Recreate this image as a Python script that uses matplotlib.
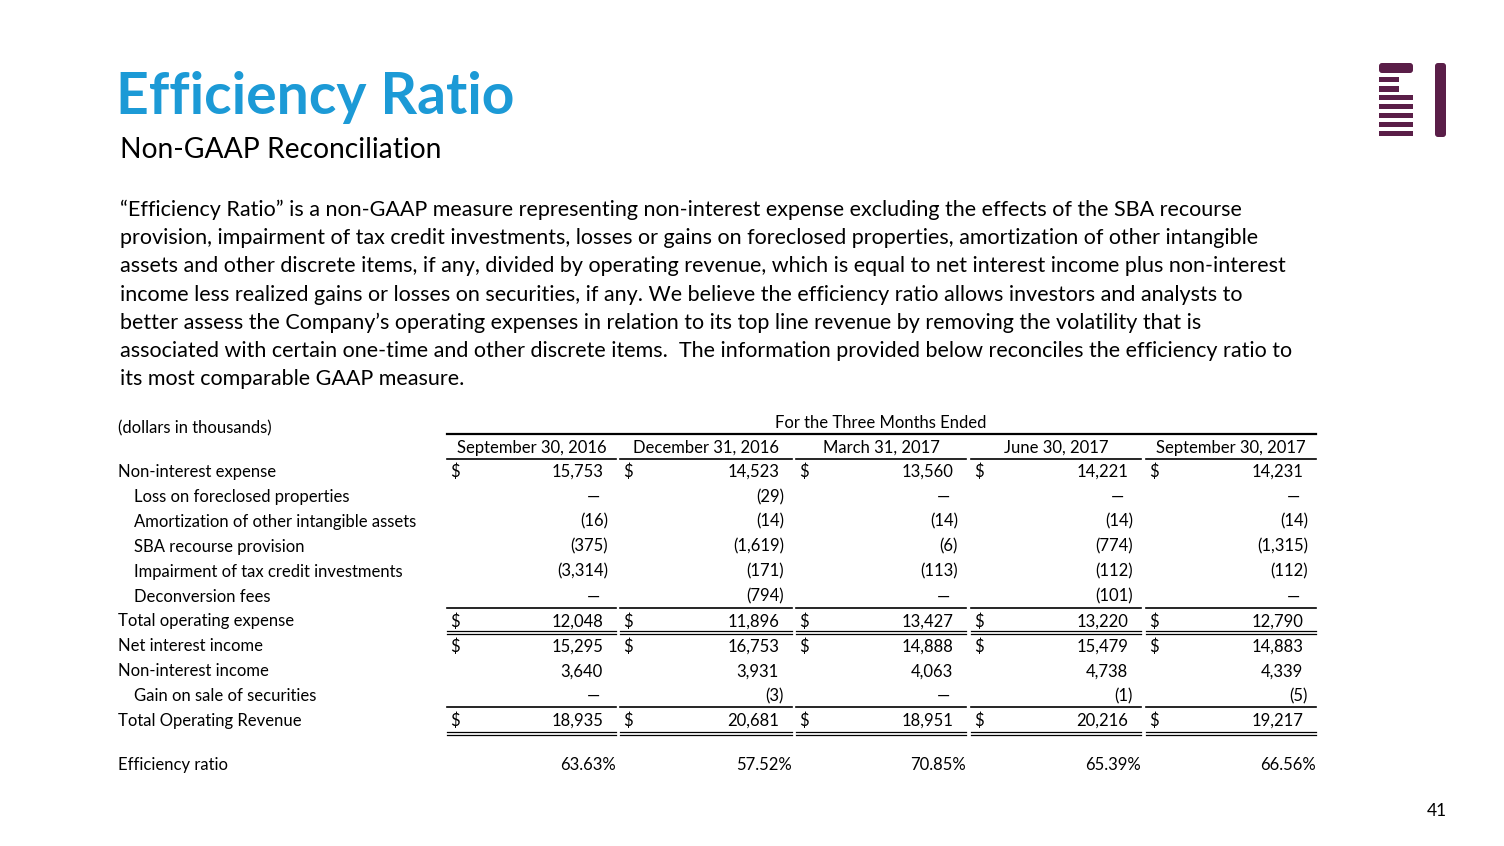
import matplotlib
matplotlib.use("Agg")
import matplotlib.pyplot as plt
from matplotlib.patches import Rectangle, FancyBboxPatch

plt.rcParams['font.family'] = ['Lato', 'DejaVu Sans']

title = "Efficiency Ratio"
subtitle = "Non-GAAP Reconciliation"
paragraph = [
    "\u201cEfficiency Ratio\u201d is a non-GAAP measure representing non-interest expense excluding the effects of the SBA recourse",
    "provision, impairment of tax credit investments, losses or gains on foreclosed properties, amortization of other intangible",
    "assets and other discrete items, if any, divided by operating revenue, which is equal to net interest income plus non-interest",
    "income less realized gains or losses on securities, if any. We believe the efficiency ratio allows investors and analysts to",
    "better assess the Company\u2019s operating expenses in relation to its top line revenue by removing the volatility that is",
    "associated with certain one-time and other discrete items.  The information provided below reconciles the efficiency ratio to",
    "its most comparable GAAP measure.",
]

periods = ["September 30, 2016", "December 31, 2016", "March 31, 2017",
           "June 30, 2017", "September 30, 2017"]

row_labels = ["Non-interest expense", "Loss on foreclosed properties",
              "Amortization of other intangible assets", "SBA recourse provision",
              "Impairment of tax credit investments", "Deconversion fees",
              "Total operating expense", "Net interest income", "Non-interest income",
              "Gain on sale of securities", "Total Operating Revenue"]
indented = [False, True, True, True, True, True, False, False, False, True, False]
dollar_rows = [True, False, False, False, False, False, True, True, False, False, True]

non_interest_expense = [15753, 14523, 13560, 14221, 14231]
loss_foreclosed = [None, -29, None, None, None]
amortization = [-16, -14, -14, -14, -14]
sba_recourse = [-375, -1619, -6, -774, -1315]
impairment = [-3314, -171, -113, -112, -112]
deconversion = [None, -794, None, -101, None]
total_operating_expense = [12048, 11896, 13427, 13220, 12790]
net_interest_income = [15295, 16753, 14888, 15479, 14883]
non_interest_income = [3640, 3931, 4063, 4738, 4339]
gain_on_securities = [None, -3, None, -1, -5]
total_operating_revenue = [18935, 20681, 18951, 20216, 19217]
efficiency_ratio = [63.63, 57.52, 70.85, 65.39, 66.56]

rows = [non_interest_expense, loss_foreclosed, amortization, sba_recourse, impairment,
        deconversion, total_operating_expense, net_interest_income, non_interest_income,
        gain_on_securities, total_operating_revenue]

BLUE = "#1C9AD6"
PURPLE = "#5A1E48"
TXT = "#000000"

fig = plt.figure(figsize=(15.04, 8.46), dpi=100)
ax = fig.add_axes([0, 0, 1, 1])
ax.set_xlim(0, 1504)
ax.set_ylim(846, 0)
ax.axis("off")

# header
ax.text(116, 98, title, fontsize=41, fontweight="bold", color=BLUE, va="center", ha="left")
ax.text(120, 150, subtitle, fontsize=20.3, color=TXT, va="center", ha="left")
for i, line in enumerate(paragraph):
    ax.text(120, 210 + i * 28.2, line, fontsize=15.5, color=TXT, va="center", ha="left")

# logo
ax.add_patch(FancyBboxPatch((1379, 63), 34, 10, boxstyle="round,pad=0,rounding_size=3",
                            color=PURPLE, lw=0))
for y0, x1 in [(77, 1399), (86.5, 1399), (95, 1413), (104, 1413), (113, 1413), (122, 1413), (131, 1413)]:
    ax.add_patch(Rectangle((1379, y0), x1 - 1379, 5.5, color=PURPLE, lw=0))
ax.add_patch(FancyBboxPatch((1435, 63), 11, 74, boxstyle="round,pad=0,rounding_size=3",
                            color=PURPLE, lw=0))

# table
fs = 12
cols = [(447, 616), (620, 792), (796, 966), (971, 1141), (1146, 1316)]
row_y = [472 + i * 24.9 for i in range(len(rows))]
eff_y = 765

ax.text(118, 428, "(dollars in thousands)", fontsize=fs, color=TXT, va="center")
ax.text(881, 423, "For the Three Months Ended", fontsize=fs, color=TXT, va="center", ha="center")
ax.plot([447, 1316], [434, 434], color="black", lw=1.6)

def fmt(v):
    if v is None:
        return "\u2014"
    if v < 0:
        return "({:,})".format(-v)
    return "{:,}".format(v)

for (x0, x1), p in zip(cols, periods):
    ax.text((x0 + x1) / 2, 448, p, fontsize=fs, color=TXT, va="center", ha="center")
    ax.plot([x0, x1], [459, 459], color="black", lw=1.2)
    # under deconversion / gain rows
    ax.plot([x0, x1], [608, 608], color="black", lw=1.2)
    ax.plot([x0, x1], [707.5, 707.5], color="black", lw=1.2)
    for yy in (631.5, 634.5, 732.5, 735.5):
        ax.plot([x0, x1], [yy, yy], color="black", lw=0.9)

for r, (label, vals) in enumerate(zip(row_labels, rows)):
    y = row_y[r]
    ax.text(134 if indented[r] else 118, y, label, fontsize=fs, color=TXT, va="center")
    for (x0, x1), v in zip(cols, vals):
        if dollar_rows[r]:
            ax.text(x0 + 3, y, "$", fontsize=fs, color=TXT, va="center")
        s = fmt(v)
        if v is None:
            ax.text(x1 - 23, y, s, fontsize=fs, color=TXT, va="center", ha="center")
        elif v < 0:
            ax.text(x1 - 8, y, s, fontsize=fs, color=TXT, va="center", ha="right")
        else:
            ax.text(x1 - 13, y, s, fontsize=fs, color=TXT, va="center", ha="right")

ax.text(118, eff_y, "Efficiency ratio", fontsize=fs, color=TXT, va="center")
for (x0, x1), v in zip(cols, efficiency_ratio):
    ax.text(x1, eff_y, "{:.2f}%".format(v), fontsize=fs, color=TXT, va="center", ha="right")

ax.text(1447, 811, "41", fontsize=12.5, color=TXT, va="center", ha="right")

fig.savefig("out.png", dpi=100)
